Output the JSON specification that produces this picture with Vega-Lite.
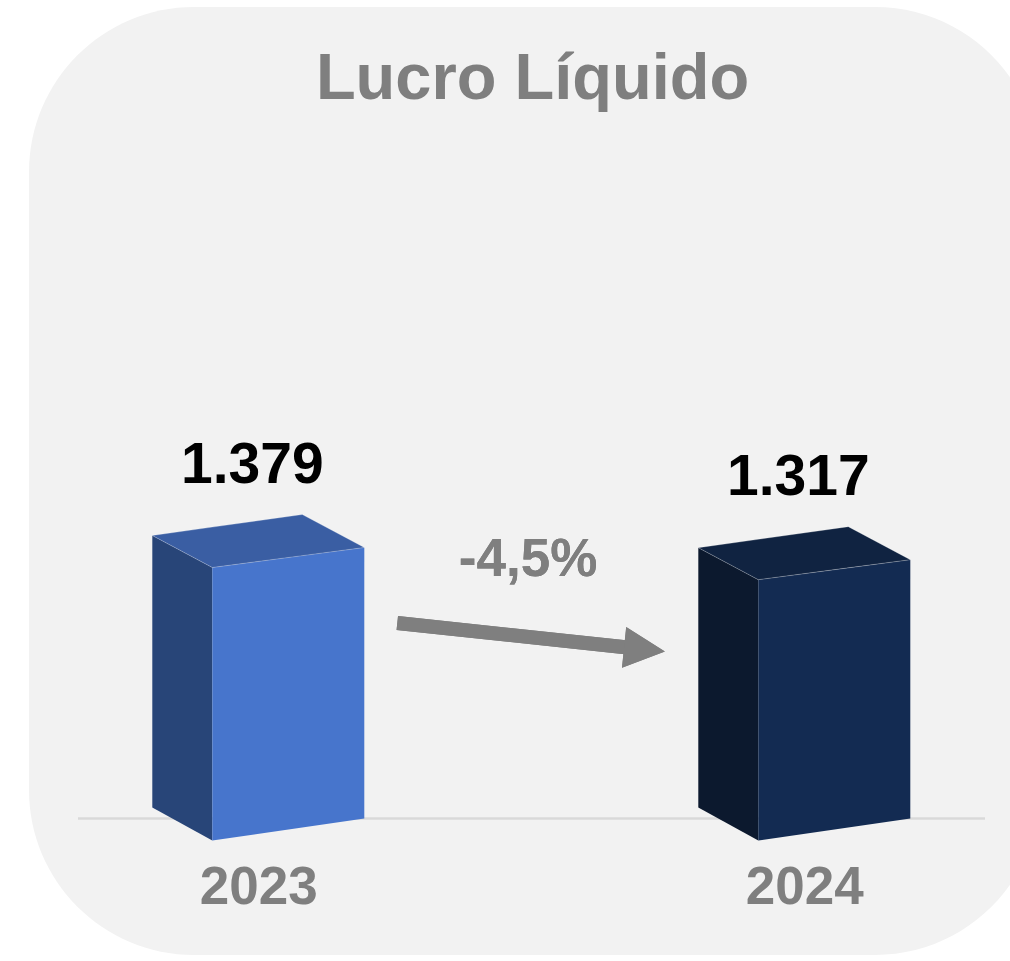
{
  "$schema": "https://vega.github.io/schema/vega-lite/v6.json",
  "width": 1011,
  "height": 948,
  "autosize": {"type": "none"},
  "padding": {"left": 29, "top": 7, "right": -30, "bottom": 6},
  "background": "#ffffff",
  "title": {
    "text": "Lucro Líquido",
    "font": "Liberation Sans",
    "fontSize": 65,
    "fontWeight": "bold",
    "color": "#7f7f7f",
    "anchor": "middle",
    "frame": "group",
    "baseline": "alphabetic",
    "offset": -157,
    "dx": -2
  },
  "data": {
    "values": [
      {"year": 2023, "value": 1379},
      {"year": 2024, "value": 1317}
    ]
  },
  "layer": [
    {
      "mark": {"type": "rule", "color": "#d9d9d9", "strokeWidth": 2},
      "encoding": {
        "x": {
          "datum": 2022.6698,
          "type": "quantitative",
          "scale": {"domain": [2022.58004, 2024.43169], "nice": false, "zero": false},
          "axis": {"values": [2023, 2024], "format": "d", "title": null}
        },
        "x2": {"datum": 2024.331},
        "y": {
          "datum": 0,
          "type": "quantitative",
          "scale": {"domain": [-694.5, 4129.4], "nice": false, "zero": false},
          "axis": null
        }
      }
    },
    {
      "transform": [
        {"calculate": "[{x: datum.year - 0.19414, y: datum.value + 61.06, y2: 55.97}, {x: datum.year - 0.08425, y: datum.value - 101.77, y2: -111.95}]", "as": "pts"},
        {"flatten": ["pts"]},
        {"calculate": "datum.pts.x", "as": "fx"},
        {"calculate": "datum.pts.y", "as": "fy"},
        {"calculate": "datum.pts.y2", "as": "fy2"}
      ],
      "mark": {"type": "area", "opacity": 1, "interpolate": "linear"},
      "encoding": {
        "x": {"field": "fx", "type": "quantitative", "axis": {"values": [2023, 2024], "format": "d", "title": null}},
        "y": {"field": "fy", "type": "quantitative", "stack": null, "axis": null},
        "y2": {"field": "fy2"},
        "color": {
          "field": "year",
          "type": "nominal",
          "scale": {"domain": [2023, 2024], "range": ["#284578", "#0c192e"]},
          "legend": null
        }
      }
    },
    {
      "transform": [
        {"calculate": "[{x: datum.year - 0.08425, y: datum.value - 101.77, y2: -111.95}, {x: datum.year + 0.19414, y: datum.value, y2: 0}]", "as": "pts"},
        {"flatten": ["pts"]},
        {"calculate": "datum.pts.x", "as": "fx"},
        {"calculate": "datum.pts.y", "as": "fy"},
        {"calculate": "datum.pts.y2", "as": "fy2"}
      ],
      "mark": {"type": "area", "opacity": 1, "interpolate": "linear"},
      "encoding": {
        "x": {"field": "fx", "type": "quantitative", "axis": {"values": [2023, 2024], "format": "d", "title": null}},
        "y": {"field": "fy", "type": "quantitative", "stack": null, "axis": null},
        "y2": {"field": "fy2"},
        "color": {
          "field": "year",
          "type": "nominal",
          "scale": {"domain": [2023, 2024], "range": ["#4775cc", "#132b52"]},
          "legend": null
        }
      }
    },
    {
      "transform": [
        {"calculate": "[{x: datum.year - 0.19414, y: datum.value + 61.06, y2: datum.value + 61.06}, {x: datum.year - 0.08425, y: datum.value + 103.8, y2: datum.value - 101.77}, {x: datum.year + 0.08059, y: datum.value + 167.9, y2: datum.value - 41.5}, {x: datum.year + 0.19414, y: datum.value, y2: datum.value}]", "as": "pts"},
        {"flatten": ["pts"]},
        {"calculate": "datum.pts.x", "as": "fx"},
        {"calculate": "datum.pts.y", "as": "fy"},
        {"calculate": "datum.pts.y2", "as": "fy2"}
      ],
      "mark": {"type": "area", "opacity": 1, "interpolate": "linear", "stroke": "#ffffff", "strokeWidth": 0.8, "strokeOpacity": 0.3},
      "encoding": {
        "x": {"field": "fx", "type": "quantitative", "axis": {"values": [2023, 2024], "format": "d", "title": null}},
        "y": {"field": "fy", "type": "quantitative", "stack": null, "axis": null},
        "y2": {"field": "fy2"},
        "color": {
          "field": "year",
          "type": "nominal",
          "scale": {"domain": [2023, 2024], "range": ["#3a5ea3", "#102341"]},
          "legend": null
        }
      }
    },
    {
      "mark": {
        "type": "text",
        "font": "Liberation Sans",
        "fontSize": 57,
        "fontWeight": "bold",
        "color": "#000000",
        "align": "center",
        "baseline": "alphabetic",
        "dx": -6,
        "dy": -65
      },
      "encoding": {
        "x": {"field": "year", "type": "quantitative", "axis": {"values": [2023, 2024], "format": "d", "title": null}},
        "y": {"field": "value", "type": "quantitative", "axis": null},
        "text": {"field": "value", "type": "quantitative", "format": ",.0f"}
      }
    },
    {
      "mark": {"type": "rule", "color": "#7f7f7f", "strokeWidth": 14, "strokeCap": "butt"},
      "encoding": {
        "x": {"datum": 2023.2546, "type": "quantitative", "axis": {"values": [2023, 2024], "format": "d", "title": null}},
        "y": {"datum": 994.8, "type": "quantitative", "axis": null},
        "x2": {"datum": 2023.6808},
        "y2": {"datum": 868.6}
      }
    },
    {
      "mark": {
        "type": "point",
        "shape": "M-1,-1L1,0L-1,1Z",
        "size": 1681,
        "angle": 5.9,
        "filled": true,
        "color": "#7f7f7f",
        "opacity": 1,
        "strokeWidth": 0
      },
      "encoding": {
        "x": {"datum": 2023.7073, "type": "quantitative", "axis": {"values": [2023, 2024], "format": "d", "title": null}},
        "y": {"datum": 860.0, "type": "quantitative", "axis": null}
      }
    },
    {
      "mark": {
        "type": "text",
        "text": "-4,5%",
        "font": "Liberation Sans",
        "fontSize": 53,
        "fontWeight": "bold",
        "color": "#7f7f7f",
        "align": "center",
        "baseline": "alphabetic"
      },
      "encoding": {
        "x": {"datum": 2023.494, "type": "quantitative", "axis": {"values": [2023, 2024], "format": "d", "title": null}},
        "y": {"datum": 1234, "type": "quantitative", "axis": null}
      }
    }
  ],
  "resolve": {"scale": {"color": "independent"}},
  "config": {
    "font": "Liberation Sans",
    "view": {"fill": "#f2f2f2", "stroke": null, "cornerRadius": 165},
    "axisX": {
      "domain": false,
      "ticks": false,
      "tickSize": 0,
      "grid": false,
      "offset": -60,
      "labelPadding": 8,
      "labelBaseline": "alphabetic",
      "labelFont": "Liberation Sans",
      "labelFontSize": 53,
      "labelFontWeight": "bold",
      "labelColor": "#7f7f7f",
      "labelFlush": false,
      "labelOverlap": false
    },
    "locale": {
      "number": {"decimal": ",", "thousands": ".", "grouping": [3], "currency": ["R$", ""]}
    }
  }
}
